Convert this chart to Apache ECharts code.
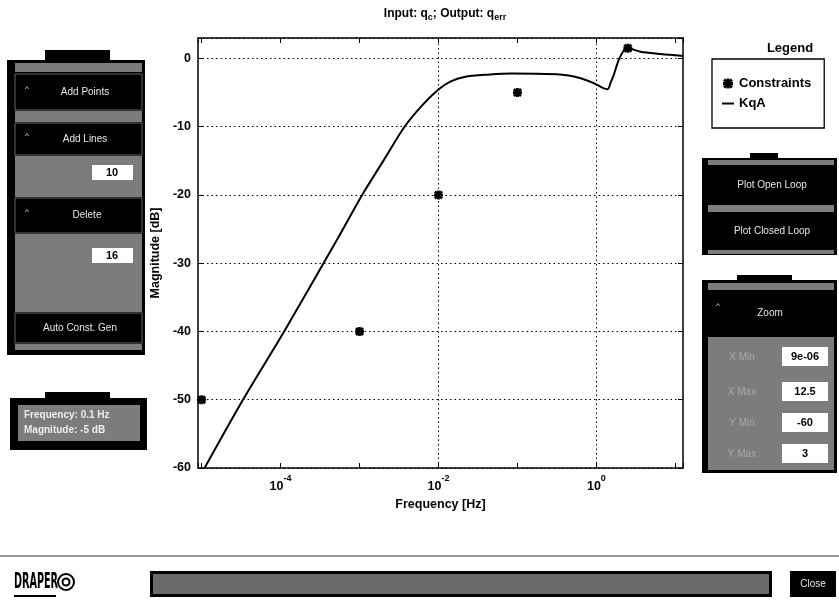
<!DOCTYPE html>
<html><head><meta charset="utf-8">
<script src="https://cdn.jsdelivr.net/npm/echarts@6/dist/echarts.min.js"></script>
<style>html,body{margin:0;padding:0;background:#fff}#c{width:839px;height:606px}</style>
</head><body><div id="c"></div>
<script>
// ---- data ----
const kqaFreqHz = [1.09e-5, 3.34e-5, 1.11e-4, 5.16e-4, 1.08e-3, 2.0e-3, 3.72e-3, 6.3e-3, 0.01, 0.0141, 0.0212, 0.0447, 0.0832, 0.316, 0.447, 0.631, 0.925, 1.2, 1.39, 1.52, 1.66, 1.92, 2.23, 2.45, 3.63, 5.93, 11.7, 12.5];
const kqaMagDb  = [-60, -50, -40, -26.6, -20, -15, -10, -6.8, -4.56, -3.4, -2.7, -2.35, -2.2, -2.3, -2.5, -2.9, -3.6, -4.3, -4.5, -3.5, -2.4, -0.2, 1.2, 1.5, 1.0, 0.7, 0.4, 0.38];
const consFreqHz = [1e-5, 1e-3, 1e-2, 0.1, 2.5];
const consMagDb  = [-50, -40, -20, -5, 1.5];
const yTickLabels = [0, -10, -20, -30, -40, -50, -60];
const xLabelExponents = [-4, -2, 0];
const xGridHz = [1e-4, 1e-2, 1];
const axisLimits = {xMin: 9e-6, xMax: 12.5, yMin: -60, yMax: 3};
const zoomFieldText = ['9e-06', '12.5', '-60', '3'];

const FONT = '"Liberation Sans", Arial, sans-serif';
const STAR = 'path://M0,3.5L10,3.5L10,6.5L0,6.5Z M3.5,0L6.5,0L6.5,10L3.5,10Z M2.1,0L10,7.9L7.9,10L0,2.1Z M7.9,0L10,2.1L2.1,10L0,7.9Z';
const DASH = 'path://M0,0L12,0L12,2L0,2Z';
const dotted = {type: [1.5, 3], color: '#000', width: 1};

// ---- GUI decoration (graphic) ----
const G = [];
function rect(x, y, w, h, fill, extra) {
  G.push({type: 'rect', silent: true, shape: {x, y, width: w, height: h}, style: Object.assign({fill}, extra || {})});
}
function txt(x, y, t, opt, el) {
  G.push(Object.assign({type: 'text', silent: true, x, y, style: Object.assign({
    text: t, fill: '#e6e6e6', fontSize: 10, fontFamily: FONT,
    textAlign: 'center', align: 'center', textVerticalAlign: 'middle', verticalAlign: 'middle'
  }, opt || {})}, el || {}));
}
const GRAY = '#7c7c7c';
// left panel 1
rect(45, 50, 65, 11, '#000');
rect(7, 60, 138, 295, '#000');
rect(15, 63, 127, 9, GRAY);
rect(15, 74, 127, 36, '#000', {stroke: '#666', lineWidth: 1});
txt(85, 92, 'Add Points'); txt(27, 89, '^', {fontSize: 8});
rect(15, 111, 127, 11, GRAY);
rect(15, 123, 127, 32, '#000', {stroke: '#666', lineWidth: 1});
txt(85, 139, 'Add Lines'); txt(27, 136, '^', {fontSize: 8});
rect(15, 156, 127, 41, GRAY);
rect(92, 165, 41, 15, '#fff');
txt(112, 172.5, '10', {fill: '#000', fontWeight: 'bold', fontSize: 11});
rect(15, 198, 127, 35, '#000', {stroke: '#666', lineWidth: 1});
txt(87, 215, 'Delete'); txt(27, 212, '^', {fontSize: 8});
rect(15, 234, 127, 78, GRAY);
rect(92, 248, 41, 15, '#fff');
txt(112, 255.5, '16', {fill: '#000', fontWeight: 'bold', fontSize: 11});
rect(15, 313, 127, 30, '#000', {stroke: '#666', lineWidth: 1});
txt(80, 328, 'Auto Const. Gen');
rect(15, 344, 127, 6, GRAY);
// left panel 2
rect(45, 392, 65, 7, '#000');
rect(10, 398, 137, 52, '#000');
rect(18, 405, 122, 36, GRAY);
txt(24, 415, 'Frequency: 0.1 Hz', {textAlign: 'left', align: 'left', fontWeight: 'bold', fill: '#eee'});
txt(24, 430, 'Magnitude: -5 dB', {textAlign: 'left', align: 'left', fontWeight: 'bold', fill: '#eee'});
// right panel 1
rect(750, 153, 28, 6, '#000');
rect(702, 158, 135, 97, '#000');
rect(708, 160, 126, 5, GRAY);
txt(772, 185, 'Plot Open Loop');
rect(708, 205, 126, 7, GRAY);
txt(772, 231, 'Plot Closed Loop');
rect(708, 250, 126, 4, GRAY);
// right panel 2
rect(737, 275, 55, 6, '#000');
rect(702, 280, 135, 193, '#000');
rect(708, 283, 126, 7, GRAY);
txt(770, 313, 'Zoom'); txt(718, 306, '^', {fontSize: 8});
rect(708, 337, 126, 133, GRAY);
const zoomY = [357, 392, 423, 454];
const zoomLbl = ['X Min', 'X Max', 'Y Min', 'Y Max'];
zoomY.forEach((y, i) => {
  txt(742, y, zoomLbl[i], {fill: '#a8a8a8'});
  rect(782, y - 10, 46, 19, '#fff');
  txt(805, y, zoomFieldText[i], {fill: '#000', fontWeight: 'bold', fontSize: 11});
});
// bottom bar
G.push({type: 'line', silent: true, shape: {x1: 0, y1: 556, x2: 839, y2: 556}, style: {stroke: '#333', lineWidth: 1}});
txt(0, 0, 'DRAPER', {fill: '#000', fontWeight: 'bold', fontSize: 21, textAlign: 'left', align: 'left', fontFamily: '"DejaVu Sans", sans-serif'},
    {x: 14, y: 583, scaleX: 0.46});
G.push({type: 'circle', silent: true, shape: {cx: 66, cy: 582, r: 8}, style: {fill: 'none', stroke: '#000', lineWidth: 2}});
G.push({type: 'circle', silent: true, shape: {cx: 66, cy: 582, r: 3.5}, style: {fill: 'none', stroke: '#000', lineWidth: 2}});
rect(14, 595, 42, 2, '#000');
rect(150, 571, 622, 26, '#000');
rect(153, 574, 616, 20, '#6a6a6a');
rect(790, 571, 46, 26, '#000');
txt(813, 584, 'Close');

// ---- chart ----
const chart = echarts.init(document.getElementById('c'), null, {renderer: 'canvas'});
const labelStyle = {color: '#000', fontSize: 12.5, fontWeight: 'bold', fontFamily: FONT};
const frameAxisLine = {show: true, onZero: false, lineStyle: {color: '#000', width: 1.5}};
const inTick = {show: true, inside: true, length: 5, lineStyle: {color: '#000', width: 1}};
chart.setOption({
  animation: false,
  backgroundColor: '#fff',
  title: [
    {text: 'Input: q{s|c}; Output: q{s|err}', left: 440, textAlign: 'center', top: 1,
     textStyle: {fontSize: 12, fontWeight: 'bold', color: '#000', fontFamily: FONT,
       rich: {s: {fontSize: 9, fontWeight: 'bold', fontFamily: FONT, color: '#000', padding: [7, 0, 0, 0]}}}},
    {text: 'Legend', left: 785, textAlign: 'center', top: 37,
     textStyle: {fontSize: 13, fontWeight: 'bold', color: '#000', fontFamily: FONT}}
  ],
  legend: {
    orient: 'vertical', left: 712, top: 59, padding: [18, 13, 18, 10], itemGap: 7,
    itemWidth: 12, itemHeight: 10, borderColor: '#000', borderWidth: 1.3,
    textStyle: {fontSize: 13, fontWeight: 'bold', color: '#000', fontFamily: FONT},
    data: [{name: 'Constraints', icon: STAR, itemStyle: {opacity: 1, color: '#000'}}, {name: 'KqA', icon: DASH}],
    selectedMode: false
  },
  grid: {left: 198, right: 156, top: 38, bottom: 138, containLabel: false},
  xAxis: [
    {type: 'log', logBase: 10, min: axisLimits.xMin, max: axisLimits.xMax, position: 'bottom',
     axisLine: frameAxisLine, axisTick: inTick,
     splitLine: {show: false}, minorTick: {show: false},
     axisLabel: {margin: 11,
       formatter: function (v) {
         const l = Math.log10(v), e = Math.round(l);
         if (Math.abs(l - e) > 1e-6 || xLabelExponents.indexOf(e) < 0) return '';
         return '{b|10}{p|' + e + '}';
       },
       rich: {
         b: {fontSize: 12.5, fontWeight: 'bold', fontFamily: FONT, color: '#000', padding: [6, 0, 0, 0], lineHeight: 14, verticalAlign: 'bottom'},
         p: {fontSize: 9, fontWeight: 'bold', fontFamily: FONT, color: '#000', padding: [0, 0, 10, 0], lineHeight: 10, verticalAlign: 'bottom'}
       }},
     name: 'Frequency [Hz]', nameLocation: 'middle', nameGap: 30,
     nameTextStyle: labelStyle},
    {type: 'log', logBase: 10, min: axisLimits.xMin, max: axisLimits.xMax, position: 'top',
     axisLine: frameAxisLine, axisTick: inTick,
     axisLabel: {show: false}, splitLine: {show: false}}
  ],
  yAxis: [
    {type: 'value', min: axisLimits.yMin, max: axisLimits.yMax, interval: 10, position: 'left',
     axisLine: frameAxisLine, axisTick: inTick,
     splitLine: {show: true, lineStyle: dotted},
     axisLabel: Object.assign({margin: 7, formatter: v => yTickLabels.indexOf(v) >= 0 ? String(v) : ''}, labelStyle),
     name: 'Magnitude [dB]', nameLocation: 'middle', nameGap: 31, nameRotate: 90,
     nameTextStyle: labelStyle},
    {type: 'value', min: axisLimits.yMin, max: axisLimits.yMax, interval: 10, position: 'right',
     axisLine: frameAxisLine, axisTick: inTick,
     axisLabel: {show: false}, splitLine: {show: false}}
  ],
  series: [
    {name: 'KqA', type: 'line', xAxisIndex: 0, yAxisIndex: 0,
     data: kqaFreqHz.map((f, i) => [f, kqaMagDb[i]]),
     symbol: 'none', smooth: 0.3, clip: true,
     lineStyle: {color: '#000', width: 2}, itemStyle: {color: '#000'},
     markLine: {silent: true, symbol: 'none', label: {show: false}, lineStyle: dotted,
       emphasis: {disabled: true},
       data: xGridHz.map(v => ({xAxis: v}))}},
    {name: 'Constraints', type: 'scatter', xAxisIndex: 0, yAxisIndex: 0,
     data: consFreqHz.map((f, i) => [f, consMagDb[i]]),
     symbol: STAR, symbolSize: 9, itemStyle: {color: '#000', opacity: 1}, clip: false, z: 5}
  ],
  graphic: G
});
</script></body></html>
